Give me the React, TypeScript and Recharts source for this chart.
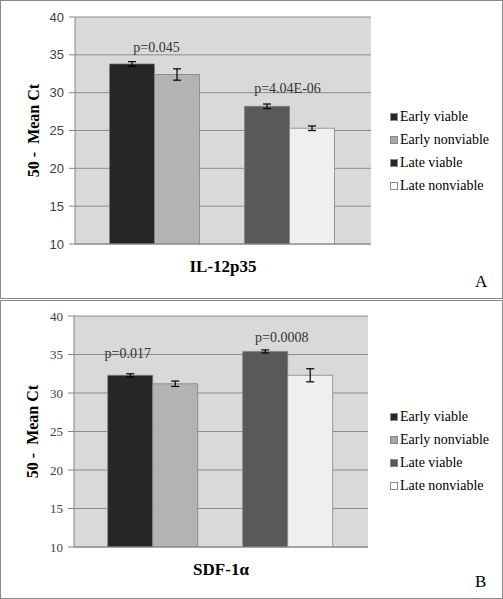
import {
  Bar,
  BarChart,
  CartesianGrid,
  ErrorBar,
  LabelList,
  XAxis,
  YAxis,
} from "recharts";

const SERIES = ["Early viable", "Early nonviable", "Late viable", "Late nonviable"];
const SERIES_KEYS = ["ev", "env", "lv", "lnv"];
const Y_TICKS = [10, 15, 20, 25, 30, 35, 40];

const IL12_CATEGORY = "IL-12p35";
const IL12_MEAN = [33.8, 32.4, 28.2, 25.3];
const IL12_ERR = [0.3, 0.75, 0.3, 0.3];
const IL12_P = ["p=0.045", "p=4.04E-06"];

const SDF_CATEGORY = "SDF-1\u03b1";
const SDF_MEAN = [32.3, 31.2, 35.4, 32.3];
const SDF_ERR = [0.2, 0.35, 0.2, 0.85];
const SDF_P = ["p=0.017", "p=0.0008"];

const BAR_FILLS = ["#262626", "#b3b3b3", "#595959", "#efefef"];
const SERIF = '"Liberation Serif", "Times New Roman", serif';
const SANS = '"Liberation Sans", Arial, sans-serif';

type PanelProps = {
  top: number;
  height: number;
  category: string;
  means: number[];
  errs: number[];
  pLabels: string[];
  // label offsets relative to the bar the p-value hangs on: [dx, dy]
  pOffsets: [number, number][];
  margin: { top: number; right: number; bottom: number; left: number };
  gap: number;
  tickFont: string;
  legendFills: string[];
  legendTop: number;
  letter: string;
};

function buildRow(category: string, means: number[], errs: number[]) {
  const row: Record<string, string | number | null> = { name: category, gap: null };
  SERIES_KEYS.forEach((k, i) => {
    row[k] = means[i];
    row[`${k}_err`] = errs[i];
  });
  return [row];
}

function Panel(p: PanelProps) {
  const data = buildRow(p.category, p.means, p.errs);

  const pLabel = (idx: number) => (props: any) => {
    const { x, y, width } = props;
    const [dx, dy] = p.pOffsets[idx];
    return (
      <text
        x={x + width + dx}
        y={y - dy}
        textAnchor="middle"
        fontFamily={SERIF}
        fontSize={14}
        fill="#333"
      >
        {p.pLabels[idx]}
      </text>
    );
  };

  return (
    <div
      style={{
        position: "absolute",
        left: 0,
        top: p.top,
        width: 501,
        height: p.height,
        border: "1px solid #8a8a8a",
        background: "#fff",
      }}
    >
      <div style={{ position: "absolute", left: -1, top: -1 }}>
        <BarChart
          width={503}
          height={p.height + 2}
          data={data}
          margin={p.margin}
          barCategoryGap={p.gap}
          barGap={0}
        >
          <CartesianGrid
            vertical={false}
            fill="#d9d9d9"
            stroke="#8c8c8c"
            strokeWidth={1}
          />
          <XAxis
            dataKey="name"
            height={30}
            axisLine={{ stroke: "#868686" }}
            tickLine={false}
            tickMargin={10}
            tick={{ fontFamily: SERIF, fontSize: 17, fontWeight: "bold", fill: "#000" }}
          />
          <YAxis
            domain={[10, 40]}
            ticks={Y_TICKS}
            allowDataOverflow
            width={45}
            axisLine={{ stroke: "#868686" }}
            tickLine={{ stroke: "#868686" }}
            tickSize={6}
            tickMargin={5}
            tick={{ fontFamily: p.tickFont, fontSize: 13, fill: "#404040" }}
            label={{
              content: (lp: any) => {
                const vb = lp.viewBox;
                const cx = vb.x + 3;
                const cy = vb.y + vb.height / 2;
                return (
                  <text
                    x={cx}
                    y={cy}
                    transform={`rotate(-90 ${cx} ${cy})`}
                    textAnchor="middle"
                    dominantBaseline="central"
                    fontFamily={SERIF}
                    fontSize={16}
                    fontWeight="bold"
                    fill="#000"
                    style={{ whiteSpace: "pre" }}
                  >
                    {"50 -  Mean Ct"}
                  </text>
                );
              },
            }}
          />
          {SERIES_KEYS.slice(0, 2).map((k, i) => (
            <Bar
              key={k}
              dataKey={k}
              fill={BAR_FILLS[i]}
              stroke="#7f7f7f"
              strokeWidth={0.75}
              isAnimationActive={false}
            >
              <ErrorBar dataKey={`${k}_err`} width={4} stroke="#000" strokeWidth={1.2} />
              {i === 0 && <LabelList dataKey={k} content={pLabel(0)} />}
            </Bar>
          ))}
          <Bar dataKey="gap" fill="none" isAnimationActive={false} />
          {SERIES_KEYS.slice(2).map((k, j) => (
            <Bar
              key={k}
              dataKey={k}
              fill={BAR_FILLS[j + 2]}
              stroke="#7f7f7f"
              strokeWidth={0.75}
              isAnimationActive={false}
            >
              <ErrorBar dataKey={`${k}_err`} width={4} stroke="#000" strokeWidth={1.2} />
              {j === 0 && <LabelList dataKey={k} content={pLabel(1)} />}
            </Bar>
          ))}
        </BarChart>
      </div>

      <div
        style={{
          position: "absolute",
          left: 389,
          top: p.legendTop,
          fontFamily: SERIF,
          fontSize: 14,
          color: "#000",
        }}
      >
        {SERIES.map((s, i) => (
          <div key={s} style={{ display: "flex", alignItems: "center", height: 23 }}>
            <span
              style={{
                display: "inline-block",
                width: 8,
                height: 8,
                marginRight: 2,
                background: p.legendFills[i],
                border: "1px solid #8a8a8a",
                boxSizing: "border-box",
              }}
            />
            <span>{s}</span>
          </div>
        ))}
      </div>

      <div
        style={{
          position: "absolute",
          left: 474,
          top: p.height - 26,
          fontFamily: SERIF,
          fontSize: 17,
          color: "#000",
        }}
      >
        {p.letter}
      </div>
    </div>
  );
}

export default function App() {
  return (
    <div style={{ position: "relative", width: 503, height: 599 }}>
      <style>{"body{margin:0;background:#fff}"}</style>
      <Panel
        top={0}
        height={297}
        category={IL12_CATEGORY}
        means={IL12_MEAN}
        errs={IL12_ERR}
        pLabels={IL12_P}
        pOffsets={[
          [2, 12],
          [-2, 13],
        ]}
        margin={{ top: 17, right: 132, bottom: 25, left: 30 }}
        gap={34.5}
        tickFont={SANS}
        legendFills={["#262626", "#a6a6a6", "#262626", "#ffffff"]}
        legendTop={104}
        letter="A"
      />
      <Panel
        top={300}
        height={297}
        category={SDF_CATEGORY}
        means={SDF_MEAN}
        errs={SDF_ERR}
        pLabels={SDF_P}
        pOffsets={[
          [-25, 17],
          [-6, 9],
        ]}
        margin={{ top: 16, right: 135, bottom: 22, left: 29 }}
        gap={33.7}
        tickFont={SERIF}
        legendFills={["#262626", "#a6a6a6", "#595959", "#ffffff"]}
        legendTop={104}
        letter="B"
      />
    </div>
  );
}
